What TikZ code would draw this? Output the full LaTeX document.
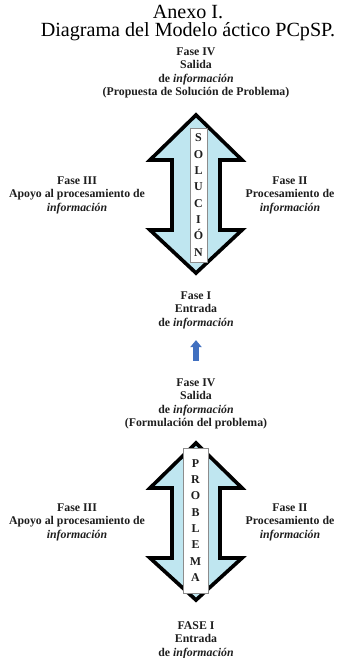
\documentclass[tikz,border=0pt]{standalone}
\usepackage{fontspec}
\setmainfont{Liberation Serif}
\usetikzlibrary{arrows.meta}
\definecolor{arrowFill}{HTML}{BFE6F0}
\definecolor{upBlue}{HTML}{4170C0}
\definecolor{textDark}{HTML}{1E1E1E}
\begin{document}
\begin{tikzpicture}[x=0.025cm,y=-0.025cm,
  phase/.style={align=center,text=textDark,font=\fontsize{8.4}{9.6}\selectfont\bfseries,inner sep=0pt},
  bigarrow/.style={draw=black,line width=2.6pt,line join=miter,fill=arrowFill},
  wordbox/.style={draw=black!45,line width=.5pt,fill=white,align=center,inner sep=0pt,text=textDark},
  uparrow/.style={-{Triangle[length=5pt,width=8pt]},line width=3.6pt,draw=upBlue}
]
\useasboundingbox (0,0) rectangle (341,658);
% title
\node[align=center,font=\fontsize{14.3}{13}\selectfont] (title) at (188,23) {Anexo I.\\Diagrama del Modelo áctico PCpSP.};
% upper double arrow: solution
\draw[bigarrow] (196,115) -- (242,160) -- (220,160) -- (220,230) -- (242,230) -- (196,273)
  -- (150,230) -- (172,230) -- (172,160) -- (150,160) -- cycle;
\node[wordbox,minimum width=0.425cm,minimum height=3.35cm,font=\fontsize{8.5}{11.6}\selectfont\bfseries] (solucion) at (198.5,195) {S\\O\\L\\U\\C\\I\\Ó\\N};
\node[phase] (fase4top) at (196,73) {Fase IV\\Salida\\de \textit{información}\\(Propuesta de Solución de Problema)};
\node[phase] (fase3top) at (77,195) {Fase III\\Apoyo al procesamiento de\\\textit{información}};
\node[phase] (fase2top) at (290,195) {Fase II\\Procesamiento de\\\textit{información}};
\node[phase] (fase1mid) at (196,310) {Fase I\\Entrada\\de \textit{información}};
% lower double arrow: problem
\draw[bigarrow] (196,443) -- (242,488) -- (220,488) -- (220,558) -- (242,558) -- (196,600)
  -- (150,558) -- (172,558) -- (172,488) -- (150,488) -- cycle;
\node[wordbox,minimum width=0.625cm,minimum height=3.625cm,font=\fontsize{8.5}{11.6}\selectfont\bfseries] (problema) at (195.5,520.5) {P\\R\\O\\B\\L\\E\\M\\A};
\node[phase] (fase4mid) at (196,404) {Fase IV\\Salida\\de \textit{información}\\(Formulación del problema)};
\node[phase] (fase3bot) at (77,522) {Fase III\\Apoyo al procesamiento de\\\textit{información}};
\node[phase] (fase2bot) at (290,522) {Fase II\\Procesamiento de\\\textit{información}};
\node[phase] (fase1bot) at (196,640) {FASE I\\Entrada\\de \textit{información}};
% link between the two cycles
\draw[uparrow,shorten <=12.5pt,shorten >=8pt] (fase4mid.north) -- (fase1mid.south);
\end{tikzpicture}
\end{document}
